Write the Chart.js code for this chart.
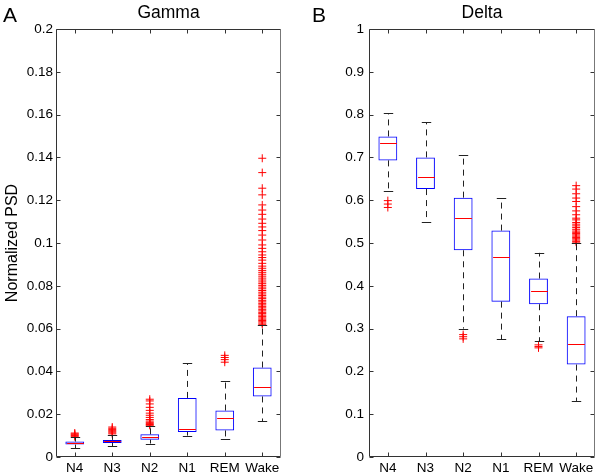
<!DOCTYPE html>
<html>
<head>
<meta charset="utf-8">
<title>Gamma / Delta normalized PSD</title>
<script src="https://cdn.jsdelivr.net/npm/chart.js@4.4.1/dist/chart.umd.min.js"></script>
<style>
  body { margin: 0; background: #fff; }
  #wrap { position: relative; width: 600px; height: 475px; font-family: "Liberation Sans", Arial, sans-serif; }
  .panel { position: absolute; top: 0; width: 300px; height: 475px; }
  .letter { position: absolute; top: 4px; font-size: 21px; line-height: 21px; color: #000; }
</style>
</head>
<body>
<div id="wrap">
  <div class="panel" style="left:0"><canvas id="gammaChart" width="300" height="475"></canvas></div>
  <div class="panel" style="left:300px"><canvas id="deltaChart" width="300" height="475"></canvas></div>
  <div class="letter" style="left:3px">A</div>
  <div class="letter" style="left:312px">B</div>
</div>
<script>
const stages = ['N4', 'N3', 'N2', 'N1', 'REM', 'Wake'];

// Gamma band (panel A)
const gammaLow    = [0.0041, 0.0050, 0.0063, 0.0100, 0.0083, 0.0166];
const gammaQ1     = [0.0058, 0.0066, 0.0081, 0.0117, 0.0124, 0.0283];
const gammaMedian = [0.0065, 0.0074, 0.0094, 0.0133, 0.0181, 0.0328];
const gammaQ3     = [0.0072, 0.0080, 0.0106, 0.0276, 0.0217, 0.0418];
const gammaHigh   = [0.0092, 0.0102, 0.0144, 0.0437, 0.0354, 0.0616];
const gammaOutliers = [
  [0.0095, 0.0100, 0.0104, 0.0108, 0.0112],
  [0.0108, 0.0113, 0.0118, 0.0123, 0.0128, 0.0134, 0.0140],
  [0.0148, 0.0152, 0.0157, 0.0162, 0.0168, 0.0175, 0.0185, 0.0195, 0.0205, 0.0218, 0.0232, 0.0248, 0.0262, 0.0270],
  [],
  [0.0443, 0.0455, 0.0465, 0.0475],
  [0.0620, 0.0626, 0.0632, 0.0638, 0.0644, 0.0650, 0.0657, 0.0663, 0.0670, 0.0676, 0.0683, 0.0690,
   0.0697, 0.0704, 0.0711, 0.0718, 0.0725, 0.0732, 0.0740, 0.0747, 0.0755, 0.0762, 0.0770, 0.0778,
   0.0786, 0.0794, 0.0802, 0.0810, 0.0818, 0.0827, 0.0836, 0.0845, 0.0854, 0.0863, 0.0872, 0.0882,
   0.0892, 0.0905, 0.0920, 0.0932, 0.0944, 0.0959, 0.0975, 0.0991, 0.1014, 0.1037, 0.1058, 0.1075,
   0.1092, 0.1112, 0.1134, 0.1154, 0.1178, 0.1225, 0.1256, 0.1329, 0.1396]
];

// Delta band (panel B)
const deltaLow    = [0.622, 0.548, 0.300, 0.275, 0.270, 0.131];
const deltaQ1     = [0.693, 0.626, 0.483, 0.363, 0.357, 0.216];
const deltaMedian = [0.733, 0.654, 0.558, 0.467, 0.387, 0.264];
const deltaQ3     = [0.749, 0.700, 0.606, 0.529, 0.417, 0.329];
const deltaHigh   = [0.803, 0.782, 0.705, 0.605, 0.477, 0.499];
const deltaOutliers = [
  [0.599, 0.591, 0.583],
  [],
  [0.286, 0.281, 0.276],
  [],
  [0.262, 0.258, 0.255],
  [0.634, 0.626, 0.615, 0.605, 0.597, 0.585, 0.575, 0.566, 0.558, 0.554, 0.548, 0.544, 0.540,
   0.536, 0.532, 0.528, 0.525, 0.522, 0.519, 0.516, 0.513, 0.510, 0.507, 0.504, 0.502]
];

Chart.defaults.font.family = '"Liberation Sans", Arial, sans-serif';
Chart.defaults.color = '#000';

// whiskers + medians, drawn through the scales
const boxLines = {
  id: 'boxLines',
  afterDatasetsDraw(chart, args, opts) {
    const { ctx, scales: { x, y } } = chart;
    const cat = x.width / stages.length;
    ctx.save();
    ctx.lineWidth = 1;
    stages.forEach((_, i) => {
      const cx = Math.round(x.getPixelForValue(i)) + 0.5;
      const yLo = y.getPixelForValue(opts.low[i]);
      const yQ1 = y.getPixelForValue(opts.q1[i]);
      const yQ3 = y.getPixelForValue(opts.q3[i]);
      const yHi = y.getPixelForValue(opts.high[i]);
      // dashed whiskers
      ctx.strokeStyle = '#222';
      ctx.setLineDash([6, 5]);
      ctx.beginPath();
      ctx.moveTo(cx, yQ3); ctx.lineTo(cx, yHi);
      ctx.moveTo(cx, yQ1); ctx.lineTo(cx, yLo);
      ctx.stroke();
      // caps
      ctx.setLineDash([]);
      const capHalf = cat * 0.125;
      ctx.beginPath();
      ctx.moveTo(cx - capHalf, Math.round(yHi) + 0.5); ctx.lineTo(cx + capHalf, Math.round(yHi) + 0.5);
      ctx.moveTo(cx - capHalf, Math.round(yLo) + 0.5); ctx.lineTo(cx + capHalf, Math.round(yLo) + 0.5);
      ctx.stroke();
      // median
      const boxHalf = cat * 0.25;
      const yMed = Math.round(y.getPixelForValue(opts.median[i])) + 0.5;
      ctx.strokeStyle = '#ff0000';
      ctx.beginPath();
      ctx.moveTo(cx - boxHalf + 1, yMed); ctx.lineTo(cx + boxHalf - 1, yMed);
      ctx.stroke();
    });
    ctx.restore();
  }
};

// MATLAB-like box frame with inward ticks on all four sides
const frameTicks = {
  id: 'frameTicks',
  afterDraw(chart) {
    const { ctx, chartArea: a, scales: { x, y } } = chart;
    const len = 4;
    const L = Math.round(a.left) + 0.5, R = Math.round(a.right) - 0.5;
    const T = Math.round(a.top) + 0.5, B = Math.round(a.bottom) - 0.5;
    ctx.save();
    ctx.lineWidth = 1;
    ctx.strokeStyle = '#333';
    ctx.beginPath();
    ctx.moveTo(R, T); ctx.lineTo(L, T); ctx.lineTo(L, B); ctx.lineTo(R, B);
    y.ticks.forEach(t => {
      const py = Math.round(y.getPixelForValue(t.value)) + 0.5;
      ctx.moveTo(L, py); ctx.lineTo(L + len, py);
      ctx.moveTo(R, py); ctx.lineTo(R - len, py);
    });
    stages.forEach((_, i) => {
      const px = Math.round(x.getPixelForValue(i)) + 0.5;
      ctx.moveTo(px, B); ctx.lineTo(px, B - len);
      ctx.moveTo(px, T); ctx.lineTo(px, T + len);
    });
    ctx.stroke();
    ctx.strokeStyle = '#777';
    ctx.beginPath();
    ctx.moveTo(R, T); ctx.lineTo(R, B);
    ctx.stroke();
    ctx.restore();
  }
};

function buildChart(canvasId, cfg) {
  const outlierPoints = cfg.outliers.flatMap((vals, i) => vals.map(v => ({ x: stages[i], y: v })));
  return new Chart(document.getElementById(canvasId), {
    type: 'bar',
    data: {
      labels: stages,
      datasets: [
        {
          data: stages.map((_, i) => [cfg.q1[i], cfg.q3[i]]),
          backgroundColor: 'rgba(0,0,0,0)',
          borderColor: '#0000ff',
          borderWidth: 1,
          borderSkipped: false,
          barPercentage: 0.5,
          categoryPercentage: 1.0
        },
        {
          type: 'line',
          data: outlierPoints,
          showLine: false,
          pointStyle: 'cross',
          pointRadius: 4,
          pointBorderWidth: 1,
          pointBorderColor: '#ff0000',
          pointBackgroundColor: '#ff0000'
        }
      ]
    },
    options: {
      responsive: false,
      animation: false,
      layout: { padding: { left: 0, right: cfg.padRight, top: 0, bottom: 0 } },
      plugins: {
        legend: { display: false },
        tooltip: { enabled: false },
        title: {
          display: true,
          text: cfg.title,
          fullSize: false,
          color: '#000',
          font: { size: 17.5, weight: 'normal' },
          padding: { top: 3, bottom: 5 }
        },
        boxLines: { low: cfg.low, q1: cfg.q1, median: cfg.median, q3: cfg.q3, high: cfg.high }
      },
      scales: {
        x: {
          grid: { display: false, drawTicks: false },
          border: { display: false },
          ticks: { font: { size: 13.5 }, padding: 3, autoSkip: false, maxRotation: 0, color: '#000' },
          afterFit: s => { s.height = 18; }
        },
        y: {
          min: 0,
          max: cfg.max,
          grid: { display: false, drawTicks: false },
          border: { display: false },
          ticks: {
            stepSize: cfg.step,
            font: { size: 13.5 },
            padding: cfg.tickPad,
            color: '#000',
            callback: v => String(parseFloat(v.toFixed(3)))
          },
          title: {
            display: !!cfg.yLabel,
            text: cfg.yLabel || '',
            color: '#000',
            font: { size: 16 },
            padding: { top: 3, bottom: 0 }
          },
          afterFit: s => { s.width = cfg.yWidth; }
        }
      }
    },
    plugins: [boxLines, frameTicks]
  });
}

buildChart('gammaChart', {
  title: 'Gamma', yLabel: 'Normalized PSD', max: 0.2, step: 0.02,
  yWidth: 56, padRight: 19, tickPad: 3,
  low: gammaLow, q1: gammaQ1, median: gammaMedian, q3: gammaQ3, high: gammaHigh,
  outliers: gammaOutliers
});

buildChart('deltaChart', {
  title: 'Delta', yLabel: null, max: 1, step: 0.1,
  yWidth: 69, padRight: 1, tickPad: 5,
  low: deltaLow, q1: deltaQ1, median: deltaMedian, q3: deltaQ3, high: deltaHigh,
  outliers: deltaOutliers
});
</script>
</body>
</html>
